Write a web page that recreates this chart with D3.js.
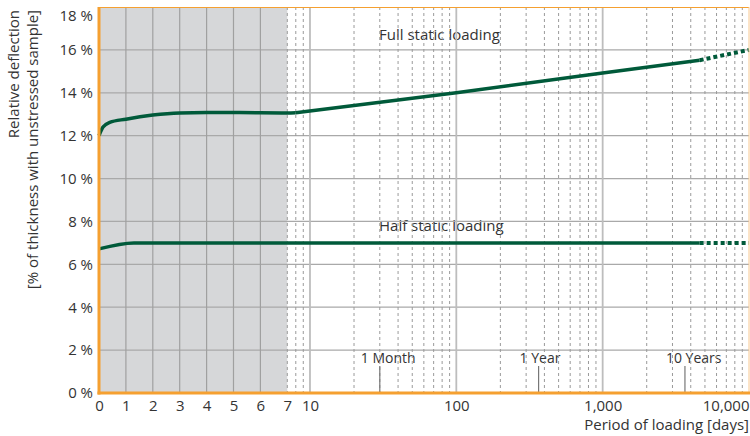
<!DOCTYPE html>
<html>
<head>
<meta charset="utf-8">
<script src="https://cdn.jsdelivr.net/npm/d3@7"></script>
<style>
  body { margin: 0; background: #fff; }
  text { font-family: "Open Sans", sans-serif; fill: #333; }
  .tick text { font-size: 15px; fill: #333; }
  .note { font-size: 15px; }
  .mlabel { font-size: 14px; }
  .title { font-size: 15px; }
</style>
</head>
<body>
<div id="chart"></div>
<script>
// ---- data ----
var yTicks = [0, 2, 4, 6, 8, 10, 12, 14, 16, 18];
var linearTicks = [0, 1, 2, 3, 4, 5, 6, 7];
var logTicks = [10, 100, 1000, 10000];
var solidGridDays = [1, 2, 3, 4, 5, 6, 10, 100, 1000];
var dashedGridDays = [7, 8, 9, 20, 30, 40, 50, 60, 70, 80, 90,
  200, 300, 400, 500, 600, 700, 800, 900,
  2000, 3000, 4000, 5000, 6000, 7000, 8000, 9000];

var markerDays = [30, 365, 3650];
var markerLabels = ["1 Month", "1 Year", "10 Years"];

// full static loading: first week (smooth), then straight on the log axis
var fullEarlyDays = [0, 0.15, 0.4, 1, 2, 3, 4, 5, 6, 7, 8];
var fullEarlyValues = [12.0, 12.4, 12.62, 12.77, 12.96, 13.06, 13.08, 13.08, 13.07, 13.06, 13.07];
var fullLateDays = [8, 100, 1000, 4600];
var fullLateValues = [13.07, 14.0, 14.92, 15.52];
var fullExtDays = [4600, 10000];
var fullExtValues = [15.52, 16.0];

var halfDays = [0, 1.3, 4600];
var halfValues = [6.72, 7.0, 7.0];
var halfExtDays = [4600, 10000];
var halfExtValues = [7.0, 7.0];

// ---- layout ----
var W = 750, H = 436;
var mLeft = 99, mRight = 749, mTop = 7, mBottom = 393;

var svg = d3.select("#chart").append("svg")
  .attr("width", W).attr("height", H);

// piecewise x: linear for the first week, log afterwards
var xLin = d3.scaleLinear().domain([0, 7]).range([mLeft, 287.3]);
var xLog = d3.scaleLog().domain([7, 10000]).range([287.3, mRight]);
function x(d) { return d <= 7 ? xLin(d) : xLog(d); }

var y = d3.scaleLinear().domain([0, 18]).range([mBottom, mTop]);

// shaded first week
svg.append("rect")
  .attr("x", xLin(0)).attr("y", mTop)
  .attr("width", xLin(7) - xLin(0)).attr("height", mBottom - mTop)
  .attr("fill", "#d6d7d9");

// in-plot labels (under the grid)
svg.append("text").attr("class", "note")
  .attr("x", 379).attr("y", 40).text("Full static loading");
svg.append("text").attr("class", "note")
  .attr("x", 379).attr("y", 231).text("Half static loading");

svg.selectAll(".mlabel")
  .data(markerDays)
  .enter().append("text")
  .attr("class", "mlabel")
  .attr("x", function (d) { return x(d) - 19; })
  .attr("y", 363)
  .text(function (d, i) { return markerLabels[i]; });

// horizontal grid
svg.selectAll(".hgrid")
  .data(yTicks.slice(1, -1))
  .enter().append("line")
  .attr("x1", mLeft).attr("x2", mRight)
  .attr("y1", function (d) { return y(d); })
  .attr("y2", function (d) { return y(d); })
  .attr("stroke", "#a9a9a9").attr("stroke-width", 1.2);

// vertical grid
svg.selectAll(".dgrid")
  .data(dashedGridDays)
  .enter().append("line")
  .attr("x1", function (d) { return x(d); })
  .attr("x2", function (d) { return x(d); })
  .attr("y1", mTop).attr("y2", mBottom)
  .attr("stroke", "#9a9a9a").attr("stroke-width", 1)
  .attr("stroke-dasharray", "3,3");

svg.selectAll(".sgrid")
  .data(solidGridDays)
  .enter().append("line")
  .attr("x1", function (d) { return x(d); })
  .attr("x2", function (d) { return x(d); })
  .attr("y1", mTop).attr("y2", mBottom)
  .attr("stroke", function (d) { return d < 7 ? "#a0a0a0" : "#bdbdbd"; })
  .attr("stroke-width", function (d) { return d < 7 ? 1.2 : 1.8; });

// month / year marks
svg.selectAll(".mark")
  .data(markerDays)
  .enter().append("line")
  .attr("x1", function (d) { return x(d); })
  .attr("x2", function (d) { return x(d); })
  .attr("y1", 366).attr("y2", mBottom)
  .attr("stroke", "#777").attr("stroke-width", 1.2);

// curves
var smooth = d3.line()
  .x(function (d) { return x(d[0]); })
  .y(function (d) { return y(d[1]); })
  .curve(d3.curveMonotoneX);
var straight = d3.line()
  .x(function (d) { return x(d[0]); })
  .y(function (d) { return y(d[1]); });

function pairs(a, b) { return a.map(function (d, i) { return [d, b[i]]; }); }

var green = "#005a3a";

[[fullEarlyDays, fullEarlyValues, smooth],
 [fullLateDays, fullLateValues, straight],
 [halfDays, halfValues, smooth]].forEach(function (s) {
  svg.append("path")
    .attr("d", s[2](pairs(s[0], s[1])))
    .attr("fill", "none").attr("stroke", green)
    .attr("stroke-width", 3.5)
    .attr("stroke-linejoin", "round");
});

[[fullExtDays, fullExtValues], [halfExtDays, halfExtValues]].forEach(function (s) {
  svg.append("path")
    .attr("d", straight(pairs(s[0], s[1])))
    .attr("fill", "none").attr("stroke", green)
    .attr("stroke-width", 4)
    .attr("stroke-dasharray", "4,3");
});

// frame
var orange = "#f5a030";
svg.append("line").attr("x1", mLeft).attr("x2", mRight).attr("y1", mTop + 0.5).attr("y2", mTop + 0.5)
  .attr("stroke", orange).attr("stroke-width", 1);
svg.append("line").attr("x1", mRight).attr("x2", mRight).attr("y1", mTop).attr("y2", mBottom)
  .attr("stroke", "#f8c890").attr("stroke-width", 1);
svg.append("line").attr("x1", mLeft).attr("x2", mLeft).attr("y1", mTop).attr("y2", mBottom + 1.5)
  .attr("stroke", orange).attr("stroke-width", 3);
svg.append("line").attr("x1", mLeft - 1.5).attr("x2", mRight + 1).attr("y1", mBottom).attr("y2", mBottom)
  .attr("stroke", orange).attr("stroke-width", 3);

// axes
var yAxis = d3.axisLeft(y)
  .tickValues(yTicks)
  .tickSize(0)
  .tickPadding(6)
  .tickFormat(function (d) { return d + " %"; });

var gy = svg.append("g")
  .attr("transform", "translate(" + mLeft + ",0)")
  .call(yAxis)
  .call(function (g) { g.select(".domain").remove(); });
gy.selectAll("text").style("font-family", "'Open Sans', sans-serif");
// top label sits a little lower, inside the picture
gy.selectAll(".tick text")
  .filter(function (d) { return d === 18; })
  .attr("dy", "0.32em")
  .attr("y", 9);

var xAxisLin = d3.axisBottom(xLin).tickValues(linearTicks).tickSize(0).tickPadding(7)
  .tickFormat(d3.format("d"));
var xAxisLog = d3.axisBottom(xLog).tickValues(logTicks).tickSize(0).tickPadding(7)
  .tickFormat(d3.format(","));

[xAxisLin, xAxisLog].forEach(function (ax) {
  svg.append("g")
    .attr("transform", "translate(0," + mBottom + ")")
    .call(ax)
    .call(function (g) { g.select(".domain").remove(); })
    .selectAll("text").style("font-family", "'Open Sans', sans-serif");
});

// last label pushed inside
svg.selectAll(".tick text")
  .filter(function (d) { return d === 10000; })
  .attr("text-anchor", "end");

// titles
svg.append("text").attr("class", "title")
  .attr("x", mRight).attr("y", 430)
  .attr("text-anchor", "end")
  .text("Period of loading [days]");

var yTitle = svg.append("text").attr("class", "title")
  .attr("transform", "rotate(-90)")
  .attr("text-anchor", "end");
yTitle.append("tspan").attr("x", -10).attr("y", 19).text("Relative deflection");
yTitle.append("tspan").attr("x", -10).attr("y", 38).text("[% of thickness with unstressed sample]");
</script>
</body>
</html>
